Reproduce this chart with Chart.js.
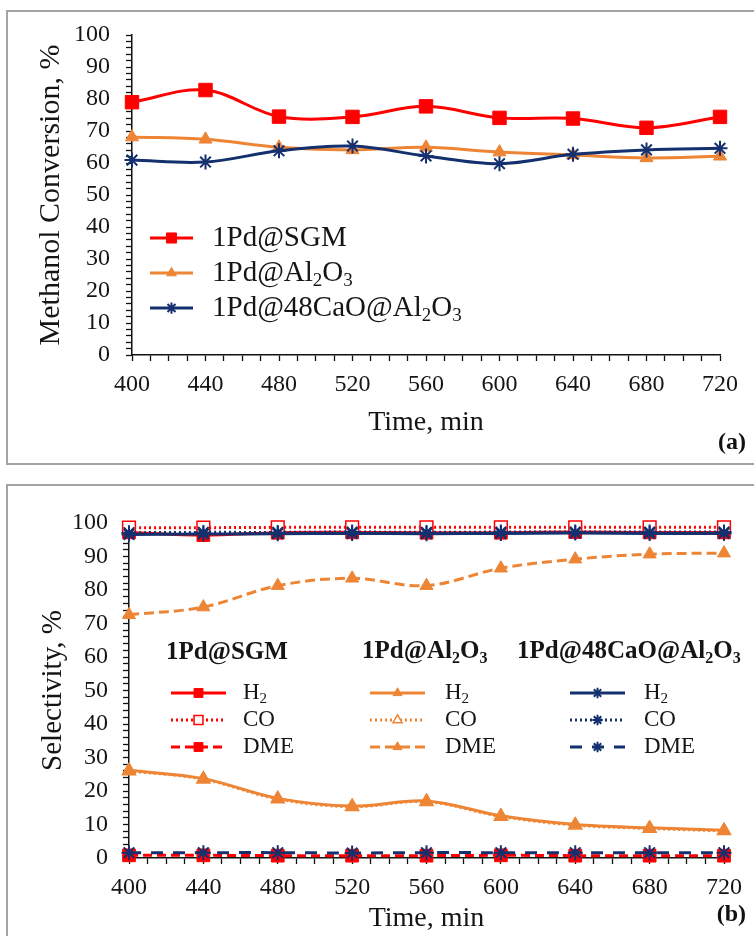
<!DOCTYPE html>
<html><head><meta charset="utf-8">
<script src="https://cdn.jsdelivr.net/npm/chart.js@4.4.0/dist/chart.umd.min.js"></script>
<style>
html,body{margin:0;padding:0;background:#fff;}
body{width:754px;height:936px;position:relative;overflow:hidden;}
.panel{position:absolute;left:6px;border:2px solid #a3a3a3;box-sizing:border-box;}
#pa{top:10px;width:770px;height:455px;}
#pb{top:484px;width:770px;height:470px;}
canvas{position:absolute;left:0;}
.tag{position:absolute;font:bold 24px "Liberation Serif","Times New Roman",serif;color:#111;}
</style></head><body>
<div class="panel" id="pa"></div><div class="panel" id="pb"></div>
<canvas id="ca" width="754" height="470" style="top:0"></canvas>
<canvas id="cb" width="754" height="461" style="top:475px"></canvas>
<div class="tag" style="right:8px;top:428px">(a)</div>
<div class="tag" style="right:8px;top:900px">(b)</div>
<script>
// ---------- data ----------
const times = [400, 440, 480, 520, 560, 600, 640, 680, 720];
const catalysts = ['1Pd@SGM', '1Pd@Al\u2082O\u2083', '1Pd@48CaO@Al\u2082O\u2083'];
const products = ['H\u2082', 'CO', 'DME'];

// (a) methanol conversion, %
const convSGM = [79.0, 82.8, 74.5, 74.4, 77.7, 74.1, 73.9, 71.0, 74.4];
const convAl  = [68.1, 67.4, 64.9, 64.1, 64.9, 63.4, 62.5, 61.6, 62.1];
const convCaO = [60.9, 60.3, 63.8, 65.3, 62.2, 59.8, 62.7, 64.1, 64.6];

// (b) selectivity, %
const selSGM_H2  = [97.2, 96.4, 97.1, 97.2, 97.1, 97.1, 97.3, 97.2, 97.2];
const selSGM_CO  = [98.6, 98.6, 98.7, 98.7, 98.7, 98.7, 98.7, 98.7, 98.7];
const selSGM_DME = [0.8, 0.8, 0.7, 0.7, 0.7, 0.8, 0.7, 0.7, 0.7];
const selAl_H2   = [26.2, 23.7, 17.8, 15.5, 17.0, 12.6, 10.0, 9.0, 8.3];
const selAl_CO   = [26.0, 23.5, 17.6, 15.3, 16.8, 12.4, 9.8, 8.8, 8.1];
const selAl_DME  = [72.6, 74.9, 81.3, 83.5, 81.3, 86.5, 89.2, 90.7, 91.0];
const selCaO_H2  = [96.6, 96.7, 96.8, 96.9, 96.8, 96.9, 97.0, 96.9, 96.9];
const selCaO_CO  = [97.1, 97.2, 97.2, 97.3, 97.2, 97.3, 97.3, 97.3, 97.3];
const selCaO_DME = [1.6, 1.6, 1.6, 1.5, 1.6, 1.6, 1.6, 1.6, 1.6];

const yTicksA = [0, 10, 20, 30, 40, 50, 60, 70, 80, 90, 100];
const xTickLabels = [400, 440, 480, 520, 560, 600, 640, 680, 720];
const yTitles = ['Methanol Conversion, %', 'Selectivity, %'];
const xTitle = 'Time, min';

// ---------- styles ----------
const RED = '#FF0000', ORANGE = '#EE8535', NAVY = '#14306E';
const SERIF = '"Liberation Serif","Times New Roman",serif';
const TXT = '#151515';

const pts = arr => times.map((t, i) => ({x: t, y: arr[i]}));

// draw text where unicode subscript digits are rendered as small lowered digits
const SUB = {'\u2080':'0','\u2081':'1','\u2082':'2','\u2083':'3','\u2084':'4'};
function drawRich(ctx, text, x, y, size, weight) {
  ctx.textBaseline = 'middle';
  ctx.textAlign = 'left';
  let cx = x;
  for (const ch of text) {
    if (SUB[ch]) {
      ctx.font = `${weight} ${Math.round(size * 0.65)}px ${SERIF}`;
      ctx.fillText(SUB[ch], cx, y + size * 0.28);
      cx += ctx.measureText(SUB[ch]).width;
    } else {
      ctx.font = `${weight} ${size}px ${SERIF}`;
      ctx.fillText(ch, cx, y);
      cx += ctx.measureText(ch).width;
    }
  }
}

const legendPlugin = {
  id: 'customLegend',
  afterDraw(chart, args, opts) {
    const ctx = chart.ctx;
    ctx.save();
    ctx.fillStyle = TXT;
    if (opts.yTitle) {
      const ca = chart.chartArea;
      ctx.save();
      ctx.translate(opts.yTitle.x, (ca.top + ca.bottom) / 2);
      ctx.rotate(-Math.PI / 2);
      ctx.font = `${opts.yTitle.size}px ${SERIF}`;
      ctx.textAlign = 'center';
      ctx.textBaseline = 'middle';
      ctx.fillText(opts.yTitle.text, 0, 0);
      ctx.restore();
    }
    (opts.headers || []).forEach(h => drawRich(ctx, h.text, h.x, h.y, h.size, 'bold'));
    (opts.items || []).forEach(it => {
      const ds = chart.data.datasets[it.index];
      ctx.save();
      ctx.strokeStyle = ds.borderColor;
      ctx.lineWidth = ds.borderWidth;
      ctx.setLineDash(ds.borderDash || []);
      ctx.beginPath(); ctx.moveTo(it.x1, it.y); ctx.lineTo(it.x2, it.y); ctx.stroke();
      ctx.setLineDash([]);
      ctx.fillStyle = ds.pointBackgroundColor;
      ctx.strokeStyle = ds.pointBorderColor;
      ctx.lineWidth = ds.pointBorderWidth;
      Chart.helpers.drawPoint(ctx, {pointStyle: ds.pointStyle, radius: ds.pointRadius * (it.ms || 1), rotation: 0, borderWidth: ds.pointBorderWidth}, (it.x1 + it.x2) / 2, it.y);
      ctx.restore();
      ctx.fillStyle = TXT;
      drawRich(ctx, it.text, it.tx, it.ty || it.y, opts.size, 'normal');
    });
    ctx.restore();
  }
};

function mk(label, data, color, style, dash, filled, radius, order) {
  return {
    label, data: pts(data), borderColor: color, borderWidth: 3, borderDash: dash,
    pointStyle: style, pointRadius: radius, pointHoverRadius: radius,
    pointBackgroundColor: filled ? color : '#ffffff',
    pointBorderColor: color, pointBorderWidth: style === 'star' ? 2 : (filled ? 1 : 1.5),
    tension: 0.35, clip: false, fill: false, order
  };
}

function scales(xh, xPadTicks, xTitlePad, yw, yTickPad) {
  const tickFont = {family: SERIF, size: 24};
  return {
    x: {
      type: 'linear', min: 400, max: 720,
      afterFit: s => { s.height = xh; },
      border: {display: true, color: '#111', width: 1.5},
      grid: {drawOnChartArea: false, drawTicks: true, tickLength: 6, color: '#111', tickWidth: 1.3},
      ticks: {stepSize: 10, autoSkip: false, maxRotation: 0, color: TXT, font: tickFont, padding: xPadTicks,
        callback: v => xTickLabels.includes(v) ? String(v) : ''},
      title: {display: true, text: xTitle, color: TXT, font: {family: SERIF, size: 28}, padding: {top: 0, bottom: xTitlePad}}
    },
    y: {
      type: 'linear', min: 0, max: 100,
      afterFit: s => { s.width = yw; },
      border: {display: true, color: '#111', width: 1.5},
      grid: {drawOnChartArea: false, drawTicks: true, tickLength: 6, color: '#111', tickWidth: 1.3},
      ticks: {stepSize: 2, autoSkip: false, color: TXT, font: tickFont, padding: yTickPad,
        callback: v => yTicksA.includes(v) ? String(v) : ''}
    }
  };
}

// ---------- chart (a) ----------
new Chart(document.getElementById('ca'), {
  type: 'line',
  data: {datasets: [
    mk(catalysts[0], convSGM, RED, 'rect', [], true, 9.5, 3),
    mk(catalysts[1], convAl, ORANGE, 'triangle', [], true, 7.5, 2),
    mk(catalysts[2], convCaO, NAVY, 'star', [], true, 7.5, 1)
  ]},
  options: {
    responsive: false, animation: false,
    layout: {padding: {left: 0, right: 34, top: 35, bottom: 0}},
    plugins: {
      legend: {display: false}, tooltip: {enabled: false},
      customLegend: {size: 29,
        yTitle: {text: yTitles[0], x: 51, size: 30},
        items: [
          {index: 0, x1: 150, x2: 193, y: 238, tx: 212, text: catalysts[0], ms: 0.75},
          {index: 1, x1: 150, x2: 193, y: 273, tx: 212, text: catalysts[1], ms: 0.75},
          {index: 2, x1: 150, x2: 193, y: 308, tx: 212, text: catalysts[2], ms: 0.75}
        ]}
    },
    scales: scales(115, 9, 31, 132, 16)
  },
  plugins: [legendPlugin]
});

// ---------- chart (b) ----------
const dsB = [
  mk(catalysts[0] + ' ' + products[0], selSGM_H2, RED, 'rect', [], true, 9, 6),
  mk(catalysts[0] + ' ' + products[1], selSGM_CO, RED, 'rect', [2, 3], false, 9, 5),
  mk(catalysts[0] + ' ' + products[2], selSGM_DME, RED, 'rect', [9, 5], true, 9, 4),
  mk(catalysts[1] + ' ' + products[0], selAl_H2, ORANGE, 'triangle', [], true, 7.5, 8),
  mk(catalysts[1] + ' ' + products[1], selAl_CO, ORANGE, 'triangle', [2, 3], false, 7.5, 9),
  mk(catalysts[1] + ' ' + products[2], selAl_DME, ORANGE, 'triangle', [10, 5], true, 7.5, 7),
  mk(catalysts[2] + ' ' + products[0], selCaO_H2, NAVY, 'star', [], true, 7.5, 3),
  mk(catalysts[2] + ' ' + products[1], selCaO_CO, NAVY, 'star', [2, 3], true, 7.5, 2),
  mk(catalysts[2] + ' ' + products[2], selCaO_DME, NAVY, 'star', [12, 10], true, 7.5, 1)
];
const colX = [[171, 226, 243], [370, 425, 445], [570, 625, 644]];
const rowY = [218, 245, 272];
const itemsB = [];
for (let c = 0; c < 3; c++) for (let r = 0; r < 3; r++) {
  itemsB.push({index: c * 3 + r, x1: colX[c][0], x2: colX[c][1], y: rowY[r], tx: colX[c][2], text: products[r], ms: 0.7});
}
new Chart(document.getElementById('cb'), {
  type: 'line',
  data: {datasets: dsB},
  options: {
    responsive: false, animation: false,
    layout: {padding: {left: 0, right: 30, top: 48, bottom: 0}},
    plugins: {
      legend: {display: false}, tooltip: {enabled: false},
      customLegend: {size: 23,
        yTitle: {text: yTitles[1], x: 53, size: 29},
        headers: [
          {text: catalysts[0], x: 166, y: 178, size: 25},
          {text: catalysts[1], x: 362, y: 177, size: 25},
          {text: catalysts[2], x: 517, y: 177, size: 25}
        ],
        items: itemsB}
    },
    scales: scales(78, 9, 1, 129, 15)
  },
  plugins: [legendPlugin]
});
</script>
</body></html>
